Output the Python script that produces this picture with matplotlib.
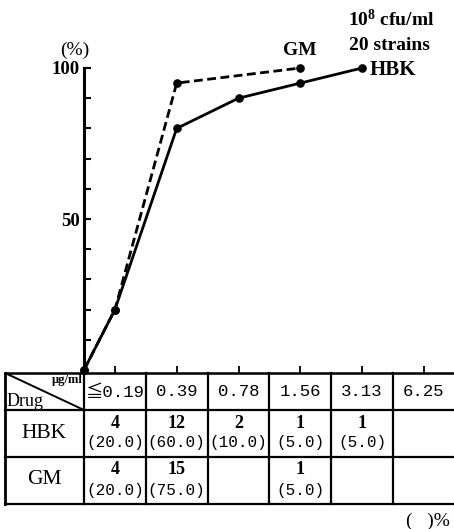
import matplotlib
matplotlib.use("Agg")
import matplotlib.pyplot as plt

plt.rcParams['mathtext.fontset'] = 'custom'
plt.rcParams['mathtext.rm'] = 'Liberation Serif:bold'
plt.rcParams['mathtext.bf'] = 'Liberation Serif:bold'
plt.rcParams['mathtext.default'] = 'rm'

# ---- data ----
categories = ['≦0.19', '0.39', '0.78', '1.56', '3.13', '6.25']
hbk_idx = [0, 1, 2, 3, 4]
hbk_cum = [20, 80, 90, 95, 100]
gm_idx = [0, 1, 3]
gm_cum = [20, 95, 100]
hbk_counts = ['4', '12', '2', '1', '1', '']
hbk_pct = ['(20.0)', '(60.0)', '(10.0)', '(5.0)', '(5.0)', '']
gm_counts = ['4', '15', '', '1', '', '']
gm_pct = ['(20.0)', '(75.0)', '', '(5.0)', '', '']
yticks = [10, 20, 30, 40, 50, 60, 70, 80, 90, 100]
ylabels = ['', '', '', '', '50', '', '', '', '', '100']

W, H = 454, 529
fig = plt.figure(figsize=(W / 100, H / 100), dpi=100)
COL = 61.8
X0 = 84
XMAX = (W - X0) / COL

serif = 'Liberation Serif'
mono = ['Liberation Mono', 'Noto Sans CJK JP', 'DejaVu Sans']

# ---- chart axes ----
y0px, y100px = 370, 68
ax = fig.add_axes([X0 / W, (H - y0px) / H, (W - X0) / W, (y0px - y100px) / H])
ax.set_xlim(0, XMAX)
ax.set_ylim(0, 100)
for s in ['top', 'right', 'bottom']:
    ax.spines[s].set_visible(False)
ax.spines['left'].set_linewidth(2.2)
ax.set_xticks([])
ax.set_yticks(yticks)
ax.set_yticklabels(ylabels, fontfamily=serif, fontweight='bold', fontsize=13.5)
ax.tick_params(axis='y', direction='in', length=5, width=1.5, pad=3)
ax.patch.set_alpha(0)

hx = [0] + [i + 0.5 for i in hbk_idx]
hy = [0] + hbk_cum
gx = [0] + [i + 0.5 for i in gm_idx]
gy = [0] + gm_cum
ax.plot(hx, hy, color='black', lw=2.0, marker='o', ms=5.2, clip_on=False)
ax.plot(gx, gy, color='black', lw=2.0, dashes=(3.2, 1.6), marker='o', ms=5.2,
        clip_on=False)

ax.text(-0.024, 106, '(%)', ha='center', va='center', transform=ax.get_yaxis_transform(),
        fontfamily=serif, fontsize=14)
ax.text(gx[-1], gy[-1] + 3.0, 'GM', ha='center', va='bottom',
        fontfamily=serif, fontweight='bold', fontsize=14)
ax.text(hx[-1] + 0.12, hy[-1] - 0.5, 'HBK', ha='left', va='center',
        fontfamily=serif, fontweight='bold', fontsize=15)
ax.text(4.97, 116, '10$^{8}$ cfu/ml', ha='center', va='center',
        fontfamily=serif, fontweight='bold', fontsize=14)
ax.text(4.95, 107.5, '20 strains', ha='center', va='center',
        fontfamily=serif, fontweight='bold', fontsize=14)

# ---- table axes ----
tl, tr, tt, tb = 5, W, 373, 504
tx = fig.add_axes([tl / W, (H - tb) / H, (tr - tl) / W, (tb - tt) / H])
tx.set_xlim((tl - X0) / COL, XMAX)
tx.set_ylim(tb - tt, 0)
for s in ['right', 'bottom', 'left']:
    tx.spines[s].set_visible(False)
tx.spines['top'].set_linewidth(1.8)
tx.set_xticks([i + 0.5 for i in range(len(categories))])
tx.set_xticklabels([])
tx.set_yticks([])
tx.tick_params(axis='x', direction='out', length=5, width=1.3, top=True,
               bottom=False, labeltop=False, labelbottom=False)
tx.patch.set_alpha(0)

xl = (tl - X0) / COL
rows = [0, 37, 84, 131]
lw = 1.6
for r in rows[1:]:
    tx.plot([xl, XMAX], [r, r], color='black', lw=lw, clip_on=False)
tx.plot([xl, xl], [0, 131], color='black', lw=2, clip_on=False)
for b in range(0, 6):
    tx.plot([b, b], [0, 131], color='black', lw=lw, clip_on=False)
tx.plot([xl, 0], [0, 37], color='black', lw=1.4)

tx.text(-0.02, 7, 'μg/ml', ha='right', va='center', fontfamily=serif,
        fontweight='bold', fontsize=9)
tx.text(xl + 0.02, 28, 'Drug', ha='left', va='center', fontfamily=serif,
        fontsize=13)
for i, c in enumerate(categories):
    tx.text(i + 0.5, 19, c, ha='center', va='center', family=mono,
            fontsize=12.5)
tx.text(xl / 2, 60, 'HBK', ha='center', va='center', fontfamily=serif,
        fontsize=15.5)
tx.text(xl / 2, 107, 'GM', ha='center', va='center', fontfamily=serif,
        fontsize=15.5)
for i in range(len(categories)):
    tx.text(i + 0.5, 50, hbk_counts[i], ha='center', va='center',
            fontfamily=serif, fontweight='bold', fontsize=13)
    tx.text(i + 0.5, 70, hbk_pct[i], ha='center', va='center',
            family=mono, fontsize=11.5)
    tx.text(i + 0.5, 97, gm_counts[i], ha='center', va='center',
            fontfamily=serif, fontweight='bold', fontsize=13)
    tx.text(i + 0.5, 118, gm_pct[i], ha='center', va='center',
            family=mono, fontsize=11.5)

fig.text(450 / W, 1 - 521 / H, '(   )%', ha='right', va='center',
         fontfamily=serif, fontsize=14)

fig.savefig('out.png', dpi=100)
